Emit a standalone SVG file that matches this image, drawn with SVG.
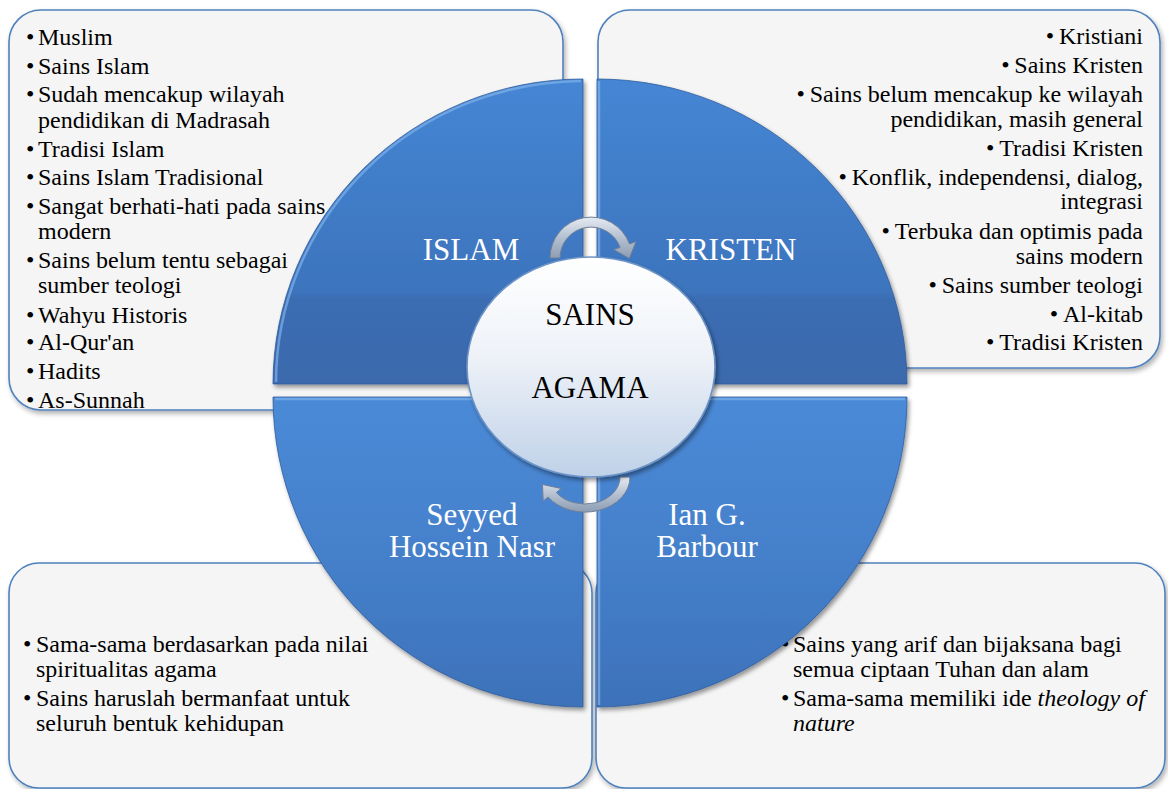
<svg xmlns="http://www.w3.org/2000/svg" width="1168" height="789" viewBox="0 0 1168 789">
<defs>
<style>
.box{fill:#f5f5f5;stroke:#4f81bd;stroke-width:1.6;filter:url(#bsh)}
.bt text{font-family:"Liberation Serif","Times New Roman",serif;font-size:24px;fill:#000}
.bt-r text{font-family:"Liberation Serif","Times New Roman",serif;font-size:24px;fill:#000;text-anchor:end}
text.ql{font-family:"Liberation Serif","Times New Roman",serif;font-size:31px;fill:#fff;text-anchor:middle}
text.cl{font-family:"Liberation Serif","Times New Roman",serif;font-size:31px;fill:#000;text-anchor:middle}
.qt{fill:url(#gTop);stroke:#2f5c9c;stroke-width:0.8;filter:url(#qsh)}
.qb{fill:url(#gBot);stroke:#2f5c9c;stroke-width:0.8;filter:url(#qsh)}
.hl{fill:none;stroke:#7fb0ea;stroke-width:2.5;opacity:0.7}
.arr{fill:url(#gArr);stroke:#6f7f98;stroke-width:1}
</style>
<filter id="bsh" x="-5%" y="-5%" width="115%" height="120%">
<feDropShadow dx="2" dy="3" stdDeviation="2.5" flood-color="#000" flood-opacity="0.3"/>
</filter>
<filter id="qsh" x="-10%" y="-10%" width="130%" height="130%">
<feDropShadow dx="2" dy="3" stdDeviation="2" flood-color="#000" flood-opacity="0.4"/>
</filter>
<linearGradient id="gTop" gradientUnits="userSpaceOnUse" x1="0" y1="79" x2="0" y2="384">
<stop offset="0" stop-color="#4586d4"/>
<stop offset="0.7" stop-color="#3d74bd"/>
<stop offset="0.72" stop-color="#3a6db3"/>
<stop offset="1" stop-color="#3a69ac"/>
</linearGradient>
<linearGradient id="gBot" gradientUnits="userSpaceOnUse" x1="0" y1="397" x2="0" y2="707">
<stop offset="0" stop-color="#4a8ad7"/>
<stop offset="0.5" stop-color="#4580cb"/>
<stop offset="1" stop-color="#3d72b9"/>
</linearGradient>
<linearGradient id="gCen" x1="0" y1="0" x2="0" y2="1">
<stop offset="0" stop-color="#ffffff"/>
<stop offset="0.45" stop-color="#eef2f8"/>
<stop offset="1" stop-color="#bfd1e8"/>
</linearGradient>
<linearGradient id="gArr" x1="0" y1="0" x2="0" y2="1">
<stop offset="0" stop-color="#e6ebf2"/>
<stop offset="0.5" stop-color="#b4c0d0"/>
<stop offset="1" stop-color="#8e9db3"/>
</linearGradient>
</defs>

<rect width="1168" height="789" fill="#ffffff"/>

<g id="box-islam">
<rect class="box" x="9" y="10" width="554" height="400" rx="32" ry="32"/>
<g class="bt">
<text x="26" y="45">•</text><text x="38" y="45">Muslim</text>
<text x="26" y="74">•</text><text x="38" y="74">Sains Islam</text>
<text x="26" y="102">•</text><text x="38" y="102">Sudah mencakup wilayah</text>
<text x="38" y="128">pendidikan di Madrasah</text>
<text x="26" y="157">•</text><text x="38" y="157">Tradisi Islam</text>
<text x="26" y="185">•</text><text x="38" y="185">Sains Islam Tradisional</text>
<text x="26" y="214">•</text><text x="38" y="214">Sangat berhati-hati pada sains</text>
<text x="38" y="239">modern</text>
<text x="26" y="268">•</text><text x="38" y="268">Sains belum tentu sebagai</text>
<text x="38" y="293">sumber teologi</text>
<text x="26" y="323">•</text><text x="38" y="323">Wahyu Historis</text>
<text x="26" y="350">•</text><text x="38" y="350">Al-Qur'an</text>
<text x="26" y="379">•</text><text x="38" y="379">Hadits</text>
<text x="26" y="408">•</text><text x="38" y="408">As-Sunnah</text>
</g>
</g>

<g id="box-kristen">
<rect class="box" x="598" y="10" width="562" height="358" rx="32" ry="32"/>
<g class="bt-r">
<text x="1143" y="44">•&#8201;Kristiani</text>
<text x="1143" y="73">•&#8201;Sains Kristen</text>
<text x="1143" y="102">•&#8201;Sains belum mencakup ke wilayah</text>
<text x="1143" y="127">pendidikan, masih general</text>
<text x="1143" y="156">•&#8201;Tradisi Kristen</text>
<text x="1143" y="185">•&#8201;Konflik, independensi, dialog,</text>
<text x="1143" y="209">integrasi</text>
<text x="1143" y="239">•&#8201;Terbuka dan optimis pada</text>
<text x="1143" y="264">sains modern</text>
<text x="1143" y="293">•&#8201;Sains sumber teologi</text>
<text x="1143" y="322">•&#8201;Al-kitab</text>
<text x="1143" y="350">•&#8201;Tradisi Kristen</text>
</g>
</g>

<g id="box-nasr">
<rect class="box" x="9" y="563" width="583" height="225" rx="30" ry="30"/>
<g class="bt">
<text x="23" y="652">•</text><text x="36" y="652">Sama-sama berdasarkan pada nilai</text>
<text x="36" y="677">spiritualitas agama</text>
<text x="23" y="706">•</text><text x="36" y="706">Sains haruslah bermanfaat untuk</text>
<text x="36" y="731">seluruh bentuk kehidupan</text>
</g>
</g>

<g id="box-barbour">
<rect class="box" x="596" y="563" width="569" height="225" rx="30" ry="30"/>
<g class="bt">
<text x="781" y="652">•</text><text x="793" y="652">Sains yang arif dan bijaksana bagi</text>
<text x="793" y="677">semua ciptaan Tuhan dan alam</text>
<text x="781" y="706">•</text><text x="793" y="706">Sama-sama memiliki ide <tspan font-style="italic">theology of</tspan></text>
<text x="793" y="731" font-style="italic">nature</text>
</g>
</g>

<g id="quarter-islam">
<path class="qt" d="M 583 384 L 273 384 A 310 305 0 0 1 583 79 Z"/>
<path class="hl" d="M 276 382 A 307 302 0 0 1 581 81"/>
<text class="ql" x="471" y="260">ISLAM</text>
</g>
<g id="quarter-kristen">
<path class="qt" d="M 597 384 L 597 79 A 310 305 0 0 1 907 384 Z"/>
<path class="hl" d="M 599 382 L 599 81"/>
<text class="ql" x="731" y="260">KRISTEN</text>
</g>
<g id="quarter-nasr">
<path class="qb" d="M 583 397 L 583 707 A 310 310 0 0 1 273 397 Z"/>
<path class="hl" d="M 275 399 L 581 399"/>
<text class="ql" x="472" y="525">Seyyed</text>
<text class="ql" x="472" y="557">Hossein Nasr</text>
</g>
<g id="quarter-barbour">
<path class="qb" d="M 597 397 L 907 397 A 310 310 0 0 1 597 707 Z"/>
<path class="hl" d="M 599 705 L 599 399 L 905 399"/>
<text class="ql" x="707" y="525">Ian G.</text>
<text class="ql" x="707" y="557">Barbour</text>
</g>

<g id="connectors">
<path class="arr" d="M 550 258 A 41 41 0 0 1 629.5 244 L 636 241.6 L 629.3 258.5 L 613.8 249.6 L 620.1 247.4 A 31 31 0 0 0 560 258 Z"/>
<path class="arr" d="M 630 477 A 45 35 0 0 1 548.1 497.1 L 543.2 501.1 L 542.5 484.5 L 561.2 488.5 L 556.3 492.5 A 35 27 0 0 0 620 477 Z"/>
</g>

<g id="center">
<ellipse cx="591" cy="367" rx="124" ry="110" fill="url(#gCen)" stroke="#6d94c6" stroke-width="1.6" filter="url(#qsh)"/>
<text class="cl" x="590" y="325">SAINS</text>
<text class="cl" x="590" y="398">AGAMA</text>
</g>
</svg>
